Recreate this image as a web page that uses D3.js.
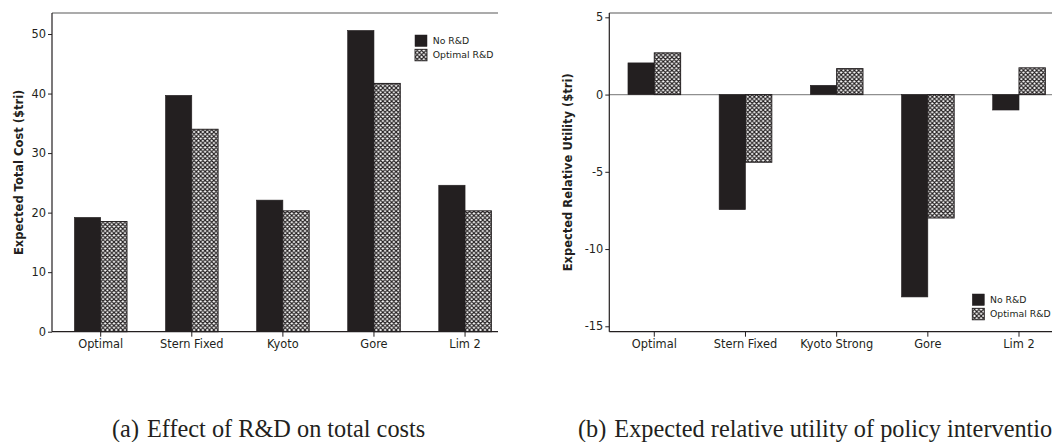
<!DOCTYPE html>
<html>
<head>
<meta charset="utf-8">
<script src="https://cdn.jsdelivr.net/npm/d3@7"></script>
<style>
  html, body { margin: 0; padding: 0; background: #fff; }
  svg { display: block; }
  .tick text, .lab { font-family: "DejaVu Sans", sans-serif; fill: #231f20; }
  .cap { font-family: "Liberation Serif", "Times New Roman", serif; fill: #231f20; }
</style>
</head>
<body>
<svg id="fig" width="1052" height="442"></svg>
<script>
// Panel (a): expected total cost ($tri)
const costCategories = ["Optimal", "Stern Fixed", "Kyoto", "Gore", "Lim 2"];
const costNoRD      = [19.2, 39.7, 22.1, 50.6, 24.6];
const costOptimalRD = [18.5, 34.0, 20.3, 41.7, 20.3];
const costTicks     = [0, 10, 20, 30, 40, 50];

// Panel (b): expected relative utility ($tri)
const utilCategories = ["Optimal", "Stern Fixed", "Kyoto Strong", "Gore", "Lim 2"];
const utilNoRD       = [2.05, -7.45, 0.6, -13.1, -1.0];
const utilOptimalRD  = [2.7, -4.38, 1.68, -7.99, 1.73];
const utilTicks      = [5, 0, -5, -10, -15];

const seriesNames = ["No R&D", "Optimal R&D"];
const INK = "#231f20";

const svg = d3.select("#fig");

// Cross-hatch fill used for the "Optimal R&D" series
const defs = svg.append("defs");
const pat = defs.append("pattern")
  .attr("id", "hatch")
  .attr("patternUnits", "userSpaceOnUse")
  .attr("width", 4.4).attr("height", 4.4);
pat.append("rect").attr("width", 4.4).attr("height", 4.4).attr("fill", "#fff");
pat.append("path")
  .attr("d", "M0,0L4.4,4.4M4.4,0L0,4.4M-1,3.4L1,5.4M3.4,-1L5.4,1M-1,1L1,-1M3.4,5.4L5.4,3.4")
  .attr("stroke", INK).attr("stroke-width", 1.15);

function panel(opt) {
  const g = svg.append("g");
  const y = d3.scaleLinear().domain(opt.yDomain).range([opt.bottom, opt.top]);
  const x0 = d3.scaleBand().domain(opt.categories)
    .range(opt.xRange).paddingInner(0.4226).paddingOuter(0.2113);
  const x1 = d3.scaleBand().domain(seriesNames).range([0, x0.bandwidth()]);

  // frame line along the top
  g.append("line")
    .attr("x1", opt.left).attr("x2", opt.right)
    .attr("y1", opt.top).attr("y2", opt.top)
    .attr("stroke", "#8f8f8f").attr("stroke-width", 1.4);

  // zero reference line
  if (opt.zeroLine) {
    g.append("line")
      .attr("x1", opt.left).attr("x2", opt.right)
      .attr("y1", y(0)).attr("y2", y(0))
      .attr("stroke", "#8f8f8f").attr("stroke-width", 1.2);
  }

  const rows = opt.categories.map((c, i) => ({ c, v: [opt.s0[i], opt.s1[i]] }));
  const grp = g.selectAll("g.cat").data(rows).join("g")
    .attr("class", "cat")
    .attr("transform", d => `translate(${x0(d.c)},0)`);

  grp.selectAll("rect").data(d => d.v.map((v, k) => ({ k, v }))).join("rect")
    .attr("x", d => x1(seriesNames[d.k]))
    .attr("width", x1.bandwidth())
    .attr("y", d => Math.min(y(d.v), y(0)))
    .attr("height", d => Math.abs(y(d.v) - y(0)))
    .attr("fill", d => d.k === 0 ? INK : "url(#hatch)")
    .attr("stroke", INK)
    .attr("stroke-width", d => d.k === 0 ? 0.6 : 1);

  // y axis
  const ya = g.append("g")
    .attr("transform", `translate(${opt.left},0)`)
    .call(d3.axisLeft(y).tickValues(opt.ticks).tickFormat(d => String(d))
      .tickSize(4).tickPadding(2));
  ya.select(".domain").remove();
  ya.selectAll(".tick line").attr("stroke", INK);
  ya.selectAll(".tick text").attr("font-size", 11.4).attr("font-family", null);
  g.append("line")
    .attr("x1", opt.left).attr("x2", opt.left)
    .attr("y1", opt.top).attr("y2", opt.bottom)
    .attr("stroke", INK).attr("stroke-width", 1.2);

  // x axis
  const xa = g.append("g")
    .attr("transform", `translate(0,${opt.bottom})`)
    .call(d3.axisBottom(x0).tickSize(5).tickPadding(3));
  xa.select(".domain").remove();
  xa.selectAll(".tick line").attr("stroke", INK);
  xa.selectAll(".tick text").attr("font-size", 11.4).attr("font-family", null);
  g.append("line")
    .attr("x1", opt.left).attr("x2", opt.right)
    .attr("y1", opt.bottom).attr("y2", opt.bottom)
    .attr("stroke", INK).attr("stroke-width", 1.2);

  // y axis title
  g.append("text").attr("class", "lab")
    .attr("transform", `translate(${opt.titleX},${(opt.top + opt.bottom) / 2}) rotate(-90)`)
    .attr("text-anchor", "middle")
    .attr("dy", "0.35em")
    .attr("font-size", 11.5).attr("font-weight", "bold")
    .text(opt.yTitle);

  // legend
  const lg = g.append("g").attr("transform", `translate(${opt.legend[0]},${opt.legend[1]})`);
  seriesNames.forEach((s, k) => {
    lg.append("rect")
      .attr("x", 0).attr("y", k * 14.3)
      .attr("width", 12).attr("height", 11.5)
      .attr("fill", k === 0 ? INK : "url(#hatch)")
      .attr("stroke", INK).attr("stroke-width", k === 0 ? 0.5 : 0.9);
    lg.append("text").attr("class", "lab")
      .attr("x", 17.7).attr("y", k * 14.3 + 5.8)
      .attr("dy", "0.35em")
      .attr("font-size", 9.3)
      .text(s);
  });

  // caption
  const cap = g.append("text").attr("class", "cap")
    .attr("x", opt.caption[0]).attr("y", opt.caption[1])
    .attr("font-size", 24.3);
  cap.append("tspan").text(opt.captionTag);
  cap.append("tspan").attr("dx", 8).text(opt.captionText);
}

panel({
  categories: costCategories, s0: costNoRD, s1: costOptimalRD,
  yDomain: [0, 53.53], ticks: costTicks,
  left: 52, right: 498, top: 13, bottom: 331.7,
  xRange: [55.15, 510.6],
  titleX: 19, yTitle: "Expected Total Cost ($tri)",
  legend: [415, 35],
  caption: [112, 437], captionTag: "(a)", captionText: "Effect of R&D on total costs"
});

panel({
  categories: utilCategories, s0: utilNoRD, s1: utilOptimalRD,
  yDomain: [-15.35, 5.28], ticks: utilTicks, zeroLine: true,
  left: 609.3, right: 1052, top: 13, bottom: 331.7,
  xRange: [608.7, 1064.6],
  titleX: 568.3, yTitle: "Expected Relative Utility ($tri)",
  legend: [972.3, 294],
  caption: [578, 437], captionTag: "(b)", captionText: "Expected relative utility of policy interventions"
});
</script>
</body>
</html>
